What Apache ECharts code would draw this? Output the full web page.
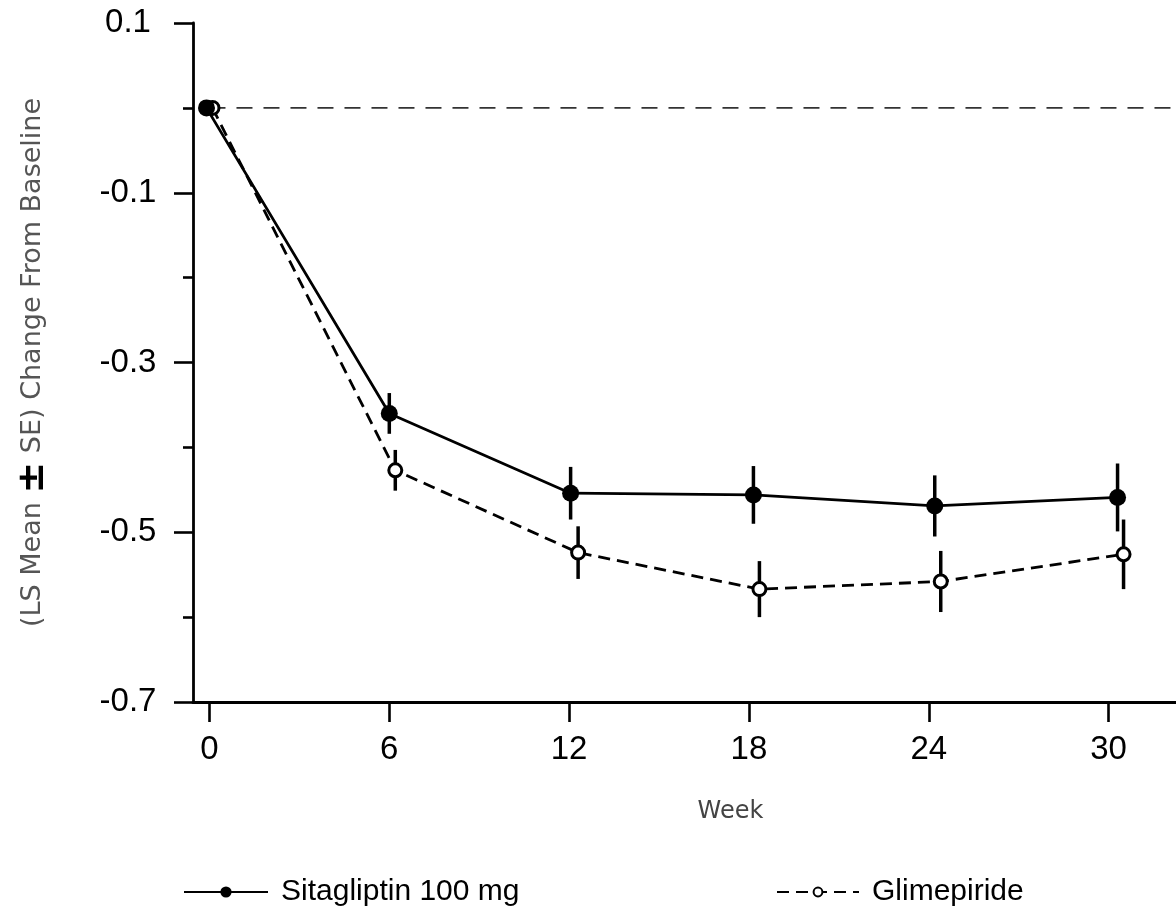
<!DOCTYPE html>
<html>
<head>
<meta charset="utf-8">
<script src="https://cdn.jsdelivr.net/npm/echarts@6/dist/echarts.min.js"></script>
<style>
  html, body { margin: 0; padding: 0; background: #fff; }
  #chart { width: 1176px; height: 909px; }
</style>
</head>
<body>
<div id="chart"></div>
<script>
// Visit weeks (nominal) used for the axis ticks
const weekTicks = [0, 6, 12, 18, 24, 30];

// Plotted visit times for each treatment group (groups slightly staggered)
const sitaWeeks = [-0.1, 6.0, 12.05, 18.15, 24.2, 30.3];
const glimWeeks = [0.1, 6.2, 12.3, 18.35, 24.4, 30.5];

// LS mean change from baseline and standard error
const sitaMean = [0, -0.360, -0.454, -0.456, -0.469, -0.459];
const sitaSE   = [0, 0.024, 0.031, 0.034, 0.036, 0.040];
const glimMean = [0, -0.427, -0.524, -0.567, -0.558, -0.526];
const glimSE   = [0, 0.024, 0.031, 0.033, 0.036, 0.041];

const seriesNames = ['Sitagliptin 100 mg', 'Glimepiride'];

function points(xs, ys) {
  return xs.map((x, i) => [x, ys[i]]);
}
function bars(xs, ys, se) {
  const out = [];
  xs.forEach((x, i) => {
    if (se[i] > 0) out.push([x, ys[i] - se[i], ys[i] + se[i]]);
  });
  return out;
}

function renderErrorBar(params, api) {
  const top = api.coord([api.value(0), api.value(2)]);
  const bottom = api.coord([api.value(0), api.value(1)]);
  return {
    type: 'line',
    shape: { x1: top[0], y1: top[1], x2: bottom[0], y2: bottom[1] },
    style: { stroke: '#000', lineWidth: 3.5 }
  };
}

const chart = echarts.init(document.getElementById('chart'), null, { renderer: 'canvas' });

const tickFont = { fontFamily: '"Liberation Sans", Arial, sans-serif', fontSize: 33, color: '#000' };
const legendFont = { fontFamily: '"Liberation Sans", Arial, sans-serif', fontSize: 30, color: '#000', padding: [0, 0, 0, 8] };

chart.setOption({
  animation: false,
  backgroundColor: '#fff',
  grid: { left: 193, right: 0, top: 23, bottom: 207, containLabel: false },
  legend: [
    {
      data: [seriesNames[0]],
      left: 178, top: 872,
      itemWidth: 84, itemHeight: 14, itemGap: 0,
      textStyle: legendFont
    },
    {
      data: [seriesNames[1]],
      left: 771, top: 872,
      itemWidth: 82, itemHeight: 11, itemGap: 0,
      textStyle: legendFont
    }
  ],
  xAxis: {
    type: 'value',
    min: -0.55,
    max: 32.25,
    name: 'Week',
    nameLocation: 'middle',
    nameGap: 98,
    nameTextStyle: {
      fontFamily: '"DejaVu Sans", Verdana, sans-serif',
      fontSize: 24, color: '#444',
      padding: [0, 0, 0, 92]
    },
    splitLine: { show: false },
    axisLine: { show: true, onZero: false, lineStyle: { color: '#000', width: 3 } },
    axisTick: {
      show: true, inside: false, length: 20,
      customValues: weekTicks,
      lineStyle: { color: '#000', width: 2.6 }
    },
    axisLabel: Object.assign({ margin: 31, customValues: weekTicks }, tickFont)
  },
  yAxis: {
    type: 'value',
    min: -0.7,
    max: 0.1,
    interval: 0.2,
    name: '{t|(LS Mean }{pm|±}{t| SE) Change From Baseline}',
    nameLocation: 'middle',
    nameGap: 141,
    nameTextStyle: {
      rich: {
        t: { fontFamily: '"DejaVu Sans", Verdana, sans-serif', fontSize: 27, color: '#555' },
        pm: { fontFamily: '"DejaVu Sans", Verdana, sans-serif', fontSize: 38, color: '#000', fontWeight: 'bold' }
      }
    },
    splitLine: { show: false },
    axisLine: { show: true, onZero: false, lineStyle: { color: '#000', width: 2.8 } },
    axisTick: { show: true, length: 19, lineStyle: { color: '#000', width: 2.6 } },
    minorTick: { show: true, splitNumber: 2, length: 10, lineStyle: { color: '#000', width: 2.6 } },
    axisLabel: Object.assign({
      margin: 65,
      align: 'center',
      formatter: v => v.toFixed(1)
    }, tickFont)
  },
  series: [
    {
      name: 'baseline',
      type: 'line',
      data: [[0, 0], [32.25, 0]],
      symbol: 'none',
      silent: true,
      z: 1,
      lineStyle: { color: '#333', width: 1.8, type: [16, 11] }
    },
    {
      name: 'sitaSE',
      type: 'custom',
      data: bars(sitaWeeks, sitaMean, sitaSE),
      renderItem: renderErrorBar,
      encode: { x: 0, y: [1, 2] },
      silent: true,
      z: 2
    },
    {
      name: 'glimSE',
      type: 'custom',
      data: bars(glimWeeks, glimMean, glimSE),
      renderItem: renderErrorBar,
      encode: { x: 0, y: [1, 2] },
      silent: true,
      z: 2
    },
    {
      name: seriesNames[1],
      type: 'line',
      data: points(glimWeeks, glimMean),
      symbol: 'circle',
      symbolSize: 13,
      z: 3,
      itemStyle: { color: '#fff', borderColor: '#000', borderWidth: 3 },
      lineStyle: { color: '#000', width: 2.8, type: [12, 7] }
    },
    {
      name: seriesNames[0],
      type: 'line',
      data: points(sitaWeeks, sitaMean),
      symbol: 'circle',
      symbolSize: 17,
      z: 4,
      itemStyle: { color: '#000', borderColor: '#000', borderWidth: 0 },
      lineStyle: { color: '#000', width: 2.8 }
    }
  ]
});
</script>
</body>
</html>
